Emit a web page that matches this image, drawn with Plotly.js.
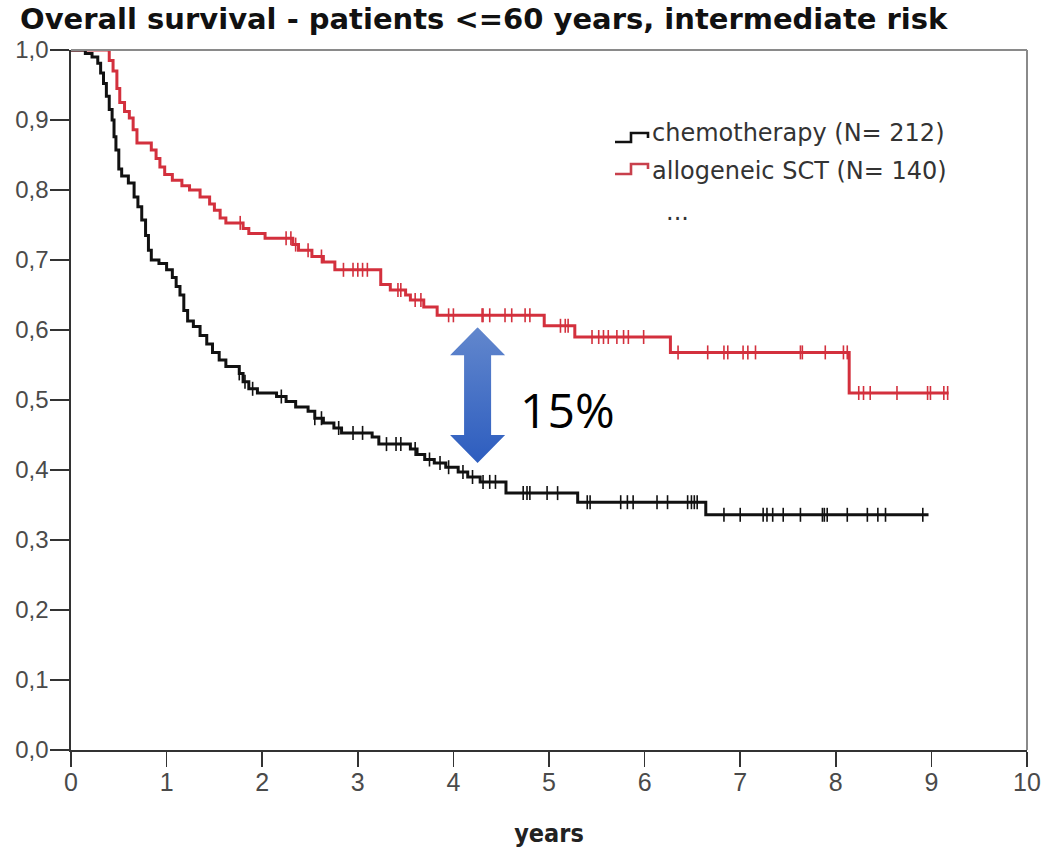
<!DOCTYPE html>
<html>
<head>
<meta charset="utf-8">
<script src="https://cdn.plot.ly/plotly-3.0.1.min.js"></script>
<style>
  html, body { margin: 0; padding: 0; background: #fff; }
  #chart { width: 1044px; height: 854px; }
</style>
</head>
<body>
<div id="chart"></div>
<script>
// Kaplan-Meier step points: time (years) and survival after each drop
const chemoTime = [0, 0.15, 0.22, 0.28, 0.31, 0.34, 0.37, 0.40, 0.43, 0.45, 0.47, 0.50, 0.53, 0.60, 0.66, 0.70, 0.74, 0.78, 0.81, 0.84, 0.92, 1.00, 1.06, 1.10, 1.14, 1.18, 1.22, 1.28, 1.35, 1.42, 1.48, 1.55, 1.62, 1.76, 1.80, 1.86, 1.95, 2.15, 2.25, 2.35, 2.48, 2.55, 2.64, 2.75, 2.83, 3.15, 3.22, 3.55, 3.62, 3.70, 3.80, 3.92, 4.05, 4.15, 4.28, 4.55, 5.30, 6.64, 8.97];
const chemoSurv = [1.0, 0.995, 0.99, 0.981, 0.967, 0.952, 0.934, 0.915, 0.90, 0.876, 0.857, 0.83, 0.82, 0.81, 0.79, 0.776, 0.757, 0.735, 0.714, 0.70, 0.695, 0.686, 0.675, 0.662, 0.65, 0.628, 0.613, 0.605, 0.592, 0.58, 0.568, 0.557, 0.548, 0.538, 0.526, 0.516, 0.51, 0.505, 0.498, 0.49, 0.484, 0.474, 0.467, 0.46, 0.453, 0.447, 0.437, 0.43, 0.422, 0.415, 0.41, 0.404, 0.397, 0.39, 0.383, 0.367, 0.354, 0.336, 0.336];
const chemoCensor = [1.76, 1.82, 1.9, 2.2, 2.55, 2.62, 2.8, 2.95, 3.05, 3.3, 3.4, 3.45, 3.6, 3.75, 3.86, 3.95, 4.1, 4.2, 4.31, 4.38, 4.44, 4.73, 4.77, 4.8, 4.98, 5.09, 5.40, 5.43, 5.75, 5.82, 5.88, 6.13, 6.24, 6.45, 6.49, 6.52, 6.55, 6.83, 7.0, 7.24, 7.28, 7.34, 7.45, 7.63, 7.86, 7.88, 7.91, 8.12, 8.33, 8.44, 8.52, 8.91];

const sctTime = [0, 0.40, 0.44, 0.48, 0.51, 0.56, 0.61, 0.65, 0.69, 0.84, 0.89, 0.93, 0.98, 1.06, 1.16, 1.24, 1.35, 1.45, 1.50, 1.56, 1.62, 1.80, 1.86, 2.03, 2.32, 2.38, 2.52, 2.64, 2.76, 3.24, 3.34, 3.50, 3.55, 3.69, 3.83, 4.95, 5.27, 6.27, 8.14, 9.18];
const sctSurv = [1.0, 0.985, 0.97, 0.945, 0.925, 0.912, 0.903, 0.886, 0.867, 0.857, 0.845, 0.833, 0.822, 0.814, 0.806, 0.80, 0.79, 0.78, 0.771, 0.76, 0.753, 0.745, 0.738, 0.731, 0.722, 0.714, 0.705, 0.697, 0.686, 0.665, 0.657, 0.65, 0.643, 0.633, 0.621, 0.606, 0.59, 0.568, 0.51, 0.51];
const sctCensor = [1.77, 2.25, 2.3, 2.35, 2.48, 2.62, 2.85, 2.95, 3.0, 3.05, 3.1, 3.42, 3.45, 3.6, 3.66, 3.95, 4.0, 4.3, 4.31, 4.38, 4.54, 4.61, 4.75, 4.8, 5.12, 5.17, 5.2, 5.45, 5.52, 5.57, 5.62, 5.71, 5.78, 5.83, 5.99, 6.35, 6.66, 6.83, 6.87, 7.03, 7.08, 7.16, 7.63, 7.65, 7.89, 8.08, 8.12, 8.24, 8.29, 8.36, 8.64, 8.96, 8.99, 9.13, 9.17];

const seriesNames = ['chemotherapy (N= 212)', 'allogeneic SCT (N= 140)'];
const xTicks = [0, 1, 2, 3, 4, 5, 6, 7, 8, 9, 10];
const yTicks = [0, 0.1, 0.2, 0.3, 0.4, 0.5, 0.6, 0.7, 0.8, 0.9, 1.0];
const gapLabel = '15%';
const gapTop = 0.604, gapBottom = 0.41, gapAt = 4.253;

const BLACK = '#111111';
const RED = '#d3303d';

// survival value of a step curve at time t
function stepValue(times, surv, t) {
  let v = surv[0];
  for (let i = 0; i < times.length; i++) {
    if (times[i] <= t) v = surv[i]; else break;
  }
  return v;
}

function curve(times, surv, color) {
  return {
    x: times, y: surv, type: 'scatter', mode: 'lines',
    line: { shape: 'hv', color: color, width: 3 },
    hoverinfo: 'skip', showlegend: false
  };
}
function censor(times, stepT, stepS, color) {
  return {
    x: times, y: times.map(t => stepValue(stepT, stepS, t)),
    type: 'scatter', mode: 'markers',
    marker: { symbol: 'line-ns', size: 10, color: color, line: { color: color, width: 1.6 } },
    hoverinfo: 'skip', showlegend: false
  };
}

const traces = [
  curve(sctTime, sctSurv, RED),
  censor(sctCensor, sctTime, sctSurv, RED),
  curve(chemoTime, chemoSurv, BLACK),
  censor(chemoCensor, chemoTime, chemoSurv, BLACK)
];

// double-headed gradient arrow between the two curves
const arrowSvg = '<svg xmlns="http://www.w3.org/2000/svg" viewBox="0 0 55 136" preserveAspectRatio="none">' +
  '<defs><linearGradient id="g" x1="0" y1="0" x2="0" y2="1">' +
  '<stop offset="0" stop-color="#6287cd"/><stop offset="1" stop-color="#2d5dbf"/></linearGradient></defs>' +
  '<polygon fill="url(#g)" points="27.5,0 55,28 41,28 41,108 55,108 27.5,136 0,108 14,108 14,28 0,28"/></svg>';
const arrowSrc = 'data:image/svg+xml;charset=utf-8,' + encodeURIComponent(arrowSvg);

const axisFont = { family: 'Liberation Sans, Arial, sans-serif', size: 24, color: '#4a4a4a' };
const legFont = { family: 'DejaVu Sans, Liberation Sans, sans-serif', size: 24, color: '#333333' };

// page-pixel helpers for the hand-drawn legend
const W = 1044, H = 854, ML = 71, MR = 17, MT = 50, MB = 104;
const pw = W - ML - MR, ph = H - MT - MB;
const px = v => (v - ML) / pw;
const py = v => 1 - (v - MT) / ph;
function iconPath(yLow, yHigh, yEnd) {
  return `M ${px(615)} ${py(yLow)} L ${px(631)} ${py(yLow)} L ${px(631)} ${py(yHigh)} L ${px(648)} ${py(yHigh)} L ${px(648)} ${py(yEnd)}`;
}

const layout = {
  width: W, height: H,
  margin: { l: ML, r: MR, t: MT, b: MB },
  paper_bgcolor: '#ffffff', plot_bgcolor: '#ffffff',
  separators: ',.',
  showlegend: false,
  title: {
    text: '<b>Overall survival - patients <=60 years, intermediate risk</b>',
    font: { family: 'DejaVu Sans, Liberation Sans, sans-serif', size: 29, color: '#111' },
    x: 20 / W, xanchor: 'left', xref: 'container', y: 1 - 19 / H, yanchor: 'middle', yref: 'container'
  },
  xaxis: {
    range: [0, 10], tickvals: xTicks, ticktext: xTicks.map(String),
    ticks: 'outside', ticklen: 15, tickwidth: 1.6, tickcolor: '#333',
    showline: true, linecolor: '#333', linewidth: 1.6, showgrid: false, zeroline: false,
    tickfont: { family: axisFont.family, size: 25, color: axisFont.color }, ticklabelstandoff: -6,
    title: { text: '<b>years</b>', font: { family: 'DejaVu Sans Condensed, Liberation Sans, Arial, sans-serif', size: 25, color: '#222' }, standoff: 30 }
  },
  yaxis: {
    range: [0, 1.0], tickvals: yTicks, tickformat: '.1f',
    ticks: 'outside', ticklen: 19, tickwidth: 1.6, tickcolor: '#333',
    showline: true, linecolor: '#333', linewidth: 1.6, showgrid: false, zeroline: false,
    tickfont: axisFont, ticklabelstandoff: -3
  },
  shapes: [
    { type: 'line', xref: 'paper', yref: 'paper', x0: 0, x1: 1, y0: 1, y1: 1, line: { color: '#8a8a8a', width: 2 } },
    { type: 'line', xref: 'paper', yref: 'paper', x0: 1, x1: 1, y0: 0, y1: 1, line: { color: '#8a8a8a', width: 2 } },
    { type: 'path', xref: 'paper', yref: 'paper', path: iconPath(142, 133, 138), line: { color: BLACK, width: 2.6 } },
    { type: 'path', xref: 'paper', yref: 'paper', path: iconPath(174, 164, 169), line: { color: '#c8404c', width: 2.6 } }
  ],
  images: [{
    source: arrowSrc, xref: 'x', yref: 'y',
    x: gapAt - 0.288, y: gapTop, sizex: 0.576, sizey: gapTop - gapBottom,
    xanchor: 'left', yanchor: 'top', sizing: 'stretch', layer: 'above'
  }],
  annotations: [
    { xref: 'paper', yref: 'paper', x: px(650), y: py(133), xanchor: 'left', yanchor: 'middle', text: seriesNames[0], showarrow: false, font: legFont },
    { xref: 'paper', yref: 'paper', x: px(650), y: py(171), xanchor: 'left', yanchor: 'middle', text: seriesNames[1], showarrow: false, font: legFont },
    { xref: 'paper', yref: 'paper', x: px(664), y: py(212), xanchor: 'left', yanchor: 'middle', text: '...', showarrow: false, font: legFont },
    { xref: 'x', yref: 'y', x: 4.68, y: 0.486, xanchor: 'left', yanchor: 'middle', text: gapLabel, showarrow: false,
      font: { family: 'Open Sans, Liberation Sans, sans-serif', size: 48, color: '#000' } }
  ]
};

Plotly.newPlot('chart', traces, layout, { displayModeBar: false, staticPlot: true });
</script>
</body>
</html>
